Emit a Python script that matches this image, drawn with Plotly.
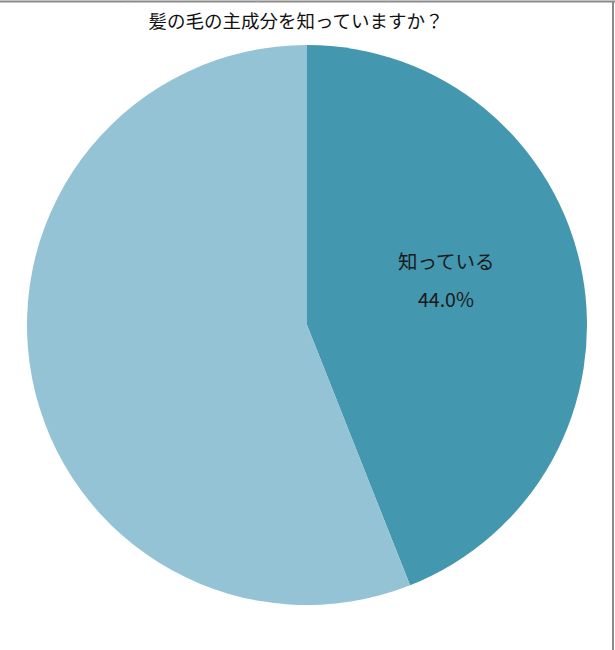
import plotly.graph_objects as go

# データ
labels = ["知っている", "知らない"]
values = [44.0, 56.0]
colors = ["#4397AE", "#93C3D5"]
title = "髪の毛の主成分を知っていますか？"

W, H = 615, 650
ml, mr, mt, mb = 27, 28, 45, 45
pw, ph = W - ml - mr, H - mt - mb

def px_x(x):
    return (x - ml) / pw

def px_y(y):
    return (H - mb - y) / ph

fig = go.Figure(go.Pie(
    labels=labels,
    values=values,
    sort=False,
    direction="clockwise",
    rotation=0,
    marker=dict(colors=colors, line=dict(width=0)),
    textinfo="none",
    hoverinfo="label+percent",
    showlegend=False,
))

# ラベル（知っている / 44.0%）
share = values[0] / sum(values)
lab_font = dict(family="Noto Sans CJK JP", size=19.5, color="#1a1a1a")
fig.add_annotation(text=labels[0], xref="paper", yref="paper",
                   x=px_x(446), y=px_y(260), xanchor="center", yanchor="middle",
                   showarrow=False, font=lab_font)
fig.add_annotation(text=f"{share:.1%}", xref="paper", yref="paper",
                   x=px_x(446), y=px_y(298), xanchor="center", yanchor="middle",
                   showarrow=False, font=lab_font)

# 枠線（シートのセル境界）
line_style = dict(color="#8a8a8a", width=2)
fig.add_shape(type="line", xref="paper", yref="paper",
              x0=px_x(0), x1=px_x(615), y0=px_y(1.5), y1=px_y(1.5), line=line_style)
fig.add_shape(type="line", xref="paper", yref="paper",
              x0=px_x(613), x1=px_x(613), y0=px_y(1.5), y1=px_y(650), line=line_style)
for tx in [128, 257, 387]:
    fig.add_shape(type="line", xref="paper", yref="paper",
                  x0=px_x(tx), x1=px_x(tx), y0=px_y(0), y1=px_y(2),
                  line=dict(color="#b0b0b0", width=1))

fig.update_layout(
    width=W, height=H,
    margin=dict(l=ml, r=mr, t=mt, b=mb),
    paper_bgcolor="white",
    plot_bgcolor="white",
    title=dict(text=title, x=296 / W, xanchor="center", y=1 - 22 / H, yanchor="middle",
               font=dict(family="Noto Sans CJK JP", size=18.5, color="#111111")),
)

fig.write_html("out.html", config={"displayModeBar": False},
               post_script="document.body.style.margin='0';")
